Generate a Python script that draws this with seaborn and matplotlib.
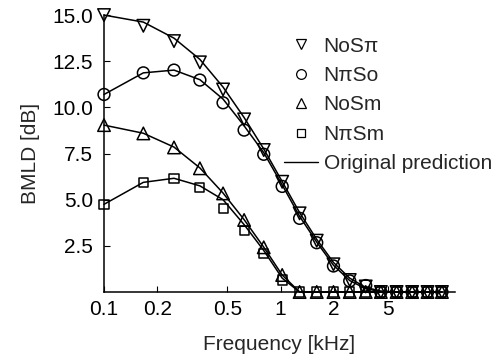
import matplotlib
matplotlib.use("Agg")
import matplotlib.pyplot as plt
import seaborn as sns
import pandas as pd
from matplotlib.lines import Line2D

# frequencies in kHz (ERB-spaced points)
freqs = [0.100, 0.167, 0.249, 0.349, 0.472, 0.621, 0.802, 1.02, 1.28,
         1.60, 1.99, 2.46, 3.03, 3.69, 4.53, 5.55, 6.78, 8.18]

# measured BMLDs [dB]
nospi = [15.0, 14.42, 13.59, 12.44, 10.97, 9.35, 7.69, 5.97, 4.26,
         2.78, 1.50, 0.65, 0.30, 0, 0, 0, 0, 0]
npiso = [10.70, 11.87, 12.02, 11.48, 10.25, 8.77, 7.46, 5.72, 3.99,
         2.67, 1.41, 0.60, 0.35, 0, 0, 0, 0, 0]
nosm = [9.04, 8.59, 7.83, 6.70, 5.34, 3.90, 2.42, 0.92, 0,
        0, 0, 0, 0, 0, 0, 0, 0, 0]
npism = [4.75, 5.94, 6.16, 5.67, 4.53, 3.32, 2.10, 0.65, 0,
         0, 0, 0, 0, 0, 0, 0, 0, 0]

# original model predictions [dB]
pred_nospi = [15.0, 14.62, 13.75, 12.6, 11.1, 9.45, 7.75, 5.98, 4.3,
              2.85, 1.6, 0.75, 0.25, 0.05, 0, 0, 0, 0]
pred_npiso = [10.7, 11.87, 12.02, 11.5, 10.45, 9.0, 7.55, 5.8, 4.1,
              2.7, 1.45, 0.62, 0.18, 0.02, 0, 0, 0, 0]
pred_nosm = [9.04, 8.6, 7.85, 6.72, 5.36, 3.92, 2.43, 0.92, 0,
             0, 0, 0, 0, 0, 0, 0, 0, 0]
pred_npism = [4.75, 5.94, 6.16, 5.75, 5.0, 3.65, 2.25, 0.75, 0,
              0, 0, 0, 0, 0, 0, 0, 0, 0]

labels = ["NoSπ", "NπSo", "NoSm", "NπSm"]
markers = ["v", "o", "^", "s"]
msizes = [9, 8.5, 9, 6.5]

xtick_pos = [0.1, 0.2, 0.5, 1, 2, 4.07]
xtick_lab = ["0.1", "0.2", "0.5", "1", "2", "5"]
ytick_pos = [2.5, 5.0, 7.5, 10.0, 12.5, 15.0]

sns.set_style("ticks")
plt.rcParams["font.family"] = ["Liberation Sans", "DejaVu Sans"]
plt.rcParams["font.size"] = 15

fig = plt.figure(figsize=(5, 3.59), dpi=100)
ax = fig.add_axes([0.208, 0.1866, 0.702, 0.7714])

data = [nospi, npiso, nosm, npism]
preds = [pred_nospi, pred_npiso, pred_nosm, pred_npism]

for lab, p in zip(labels, preds):
    df = pd.DataFrame({"f": freqs, "y": p})
    sns.lineplot(data=df, x="f", y="y", ax=ax, color="black", lw=1.1,
                 clip_on=False, zorder=2)

for lab, d, m, ms in zip(labels, data, markers, msizes):
    df = pd.DataFrame({"f": freqs, "y": d})
    sns.scatterplot(data=df, x="f", y="y", ax=ax, marker=m, s=ms ** 2,
                    facecolor="none", edgecolor="black", linewidth=1.1,
                    clip_on=False, zorder=3)

ax.set_xscale("log")
ax.set_xlim(0.1, 9.7)
ax.set_ylim(0, 15)
ax.set_xticks(xtick_pos)
ax.set_xticklabels(xtick_lab)
ax.xaxis.set_minor_locator(matplotlib.ticker.NullLocator())
ax.set_yticks(ytick_pos)
ax.set_yticklabels([f"{v:.1f}" for v in ytick_pos])
ax.tick_params(direction="in", length=4, width=0.8, colors="black")
ax.tick_params(axis="y", pad=8)
ax.tick_params(axis="x", pad=6)
sns.despine(ax=ax)
for sp in ["left", "bottom"]:
    ax.spines[sp].set_linewidth(1.1)
    ax.spines[sp].set_color("black")

ax.set_xlabel("Frequency [kHz]", labelpad=11)
ax.set_ylabel("BMLD [dB]", labelpad=9)

handles = [Line2D([], [], ls="none", marker=m, ms=7 if m != "s" else 5.5,
                  mfc="none", mec="black", mew=0.9) for m in markers]
handles.append(Line2D([], [], color="black", lw=1))
ax.legend(handles, labels + ["Original prediction"], frameon=False,
          loc="upper left", bbox_to_anchor=(0.568, 0.898),
          bbox_transform=fig.transFigure, handlelength=1.65,
          handletextpad=0.25, labelspacing=0.5, borderpad=0,
          borderaxespad=0)

fig.savefig("out.png", dpi=100)
